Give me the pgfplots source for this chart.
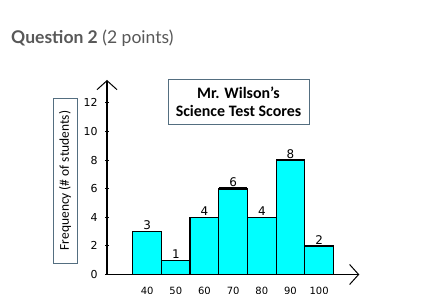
\documentclass[border=0pt]{standalone}
\usepackage{pgfplots}
\pgfplotsset{compat=1.18}
\usepackage{fontspec}
\setmainfont{Carlito}
\newfontfamily\lato{Lato}
\newfontfamily\numfont{DejaVu Sans}
\usetikzlibrary{arrows.meta}
\definecolor{barcyan}{RGB}{0,255,255}
\definecolor{boxc}{RGB}{84,110,128}
\definecolor{headgray}{RGB}{88,88,88}
\begin{document}
\begin{tikzpicture}
\useasboundingbox (0bp,0bp) rectangle (432bp,294bp);
\clip (0bp,0bp) rectangle (432bp,294bp);
\fill[white] (0bp,0bp) rectangle (432bp,294bp);
\node[anchor=base west, inner sep=0, text=headgray, font=\lato\fontsize{17.6}{20}\selectfont] at (11bp,250bp) {\textbf{Question 2} (2 points)};
\begin{axis}[at={(107bp,19.5bp)}, anchor=south west, scale only axis, width=252.3bp, height=194.5bp,
 xmin=26, xmax=114, ymin=0, ymax=13.6,
 axis lines=left,
 axis line style={line width=1.2bp, -{Straight Barb[length=9bp,width=20bp,line width=1bp]}},
 xtick={40,50,...,100}, ytick={0,2,...,12},
 major x tick style={draw=none},
 major y tick style={line width=1bp, black},
 major tick length=4bp, tick align=center,
 /pgf/number format/assume math mode=true,
 yticklabel style={font=\numfont\fontsize{11}{13}\selectfont, xshift=-4bp},
 xticklabel style={font=\numfont\fontsize{10}{12}\selectfont, yshift=-7bp},
 clip=false,
 ]
\addplot[ybar, bar width=10, fill=barcyan, draw=black, line width=1.3bp, nodes near coords, every node near coord/.append style={font=\numfont\fontsize{12}{14}\selectfont, inner sep=1.2bp}] coordinates {(40,3)(50,1)(60,4)(70,6)(80,4)(90,8)(100,2)};
\addplot[line width=2.6bp, black, unbounded coords=jump] coordinates {(65,6)(75,6)(80,nan)(85,8)(95,8)};
\end{axis}
\draw[boxc, line width=0.8bp] (53bp,31bp) rectangle (77bp,196bp);
\node[rotate=90, font=\fontsize{13.5}{16}\selectfont] at (65bp,113.5bp) {Frequency (\# of students)};
\draw[boxc, line width=0.8bp] (168bp,170bp) rectangle (309bp,215bp);
\node[align=center, font=\bfseries\fontsize{16}{18}\selectfont] at (238.5bp,192.5bp) {Mr. Wilson’s\\Science Test Scores};
\end{tikzpicture}
\end{document}
